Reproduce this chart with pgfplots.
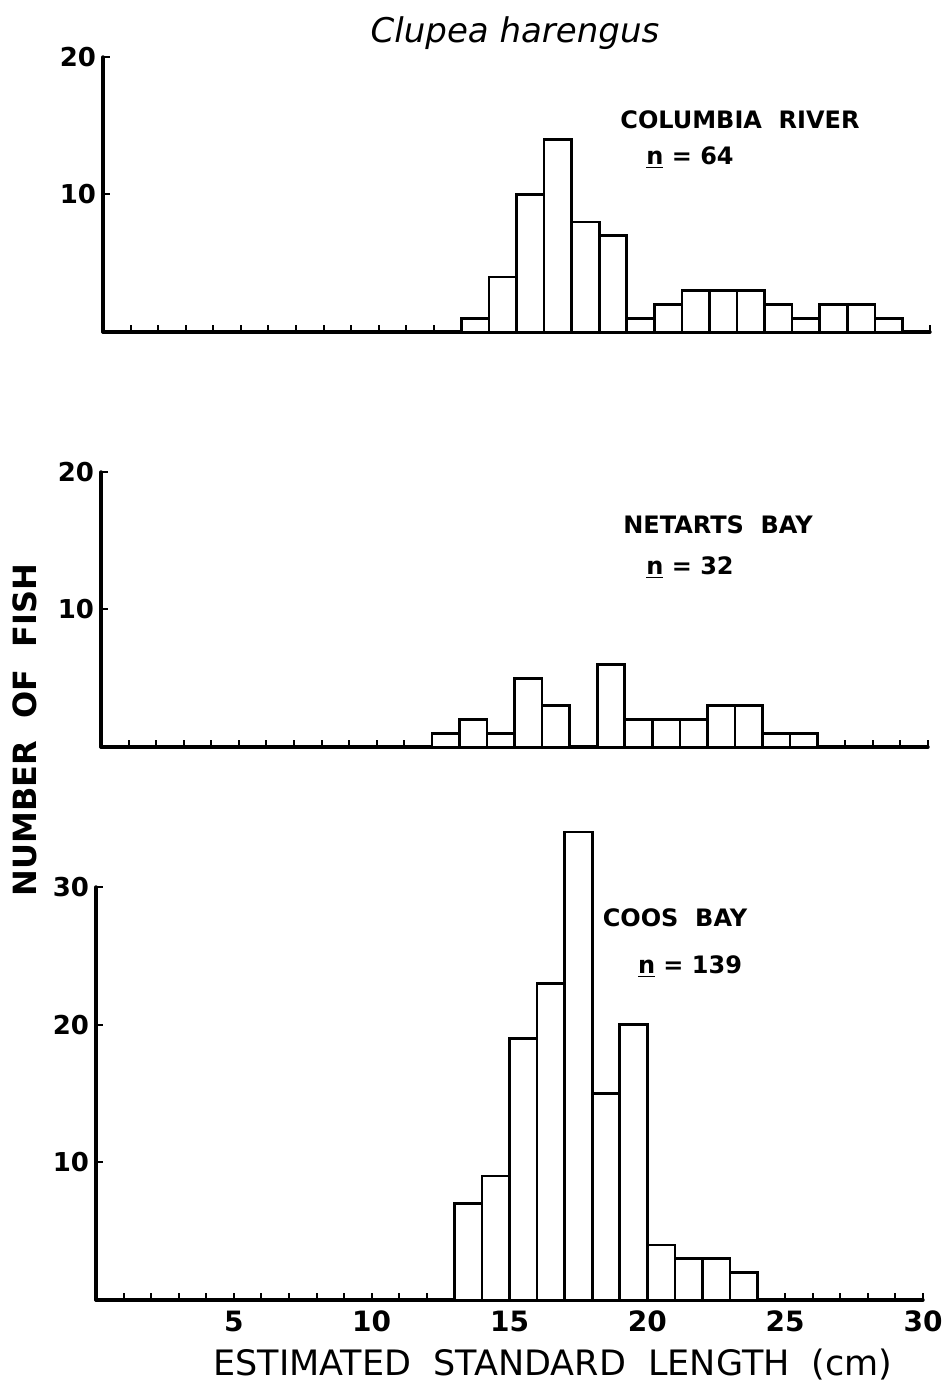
\documentclass[border=0pt]{standalone}
\usepackage{fontspec}
\setmainfont{DejaVu Sans}
\usepackage{pgfplots}
\pgfplotsset{compat=1.18}

% counts per 1-cm length class (left edge of each class, count); last row closes the final class
\begin{document}
\begin{tikzpicture}[x=1pt,y=1pt]
\path[use as bounding box] (0,0) rectangle (472.5,694.5);
\pgfplotsset{
  fishpanel/.style={
    scale only axis, width=413.5pt, xmin=0, xmax=30, ymin=0,
    enlargelimits=false, clip=false,
    axis lines*=left,
    axis line style={line width=1.7pt, line cap=round},
    xtick={5,10,...,30}, minor xtick={1,...,29},
    tick align=inside, major tick length=3.5pt, minor tick length=3.5pt,
    tick style={black, line width=1pt},
    /pgf/number format/assume math mode=true,
    ticklabel style={font=\bfseries\fontsize{13}{13}\selectfont},
  },
  bars/.style={ybar interval, fill=white, draw=black, line width=1.3pt},
}

% Columbia River
\begin{axis}[fishpanel, at={(51.5pt,528.5pt)}, height=137.5pt, ymax=20,
  ytick={10,20}, xticklabels={}]
\addplot[bars] coordinates {(13,1) (14,4) (15,10) (16,14) (17,8) (18,7) (19,1)
  (20,2) (21,3) (22,3) (23,3) (24,2) (25,1) (26,2) (27,2) (28,1) (29,0)};
\end{axis}

% Netarts Bay
\begin{axis}[fishpanel, at={(50.5pt,321pt)}, height=137.5pt, ymax=20,
  ytick={10,20}, xticklabels={}]
\addplot[bars] coordinates {(12,1) (13,2) (14,1) (15,5) (16,3) (17,0) (18,6)
  (19,2) (20,2) (21,2) (22,3) (23,3) (24,1) (25,1) (26,0)};
\end{axis}

% Coos Bay
\begin{axis}[fishpanel, at={(48pt,44.5pt)}, height=206.5pt, ymax=30,
  ytick={10,20,30},
  xticklabel style={font=\bfseries\fontsize{14}{14}\selectfont, yshift=-2pt}]
\addplot[bars] coordinates {(13,7) (14,9) (15,19) (16,23) (17,34) (18,15)
  (19,20) (20,4) (21,3) (22,3) (23,2) (24,0)};
\end{axis}

% titles and panel labels
\tikzset{panellabel/.style={font=\bfseries\fontsize{12}{12}\selectfont}}
\node[font=\itshape\fontsize{17}{17}\selectfont] at (257.5,678) {Clupea harengus};
\node[panellabel] at (370,634.5) {COLUMBIA~~RIVER};
\node[panellabel] at (345,615.5) {\underline{n} = 64};
\node[panellabel] at (359,432) {NETARTS~~BAY};
\node[panellabel] at (345,410.5) {\underline{n} = 32};
\node[panellabel] at (337.5,235.5) {COOS~~BAY};
\node[panellabel] at (345,211) {\underline{n} = 139};
\node[font=\bfseries\fontsize{16}{16}\selectfont, rotate=90] at (12.5,329.5) {NUMBER~~OF~~FISH};
\node[font=\fontsize{17.5}{17.5}\selectfont] at (276.5,12) {ESTIMATED~~STANDARD~~LENGTH~~(cm)};
\end{tikzpicture}
\end{document}
